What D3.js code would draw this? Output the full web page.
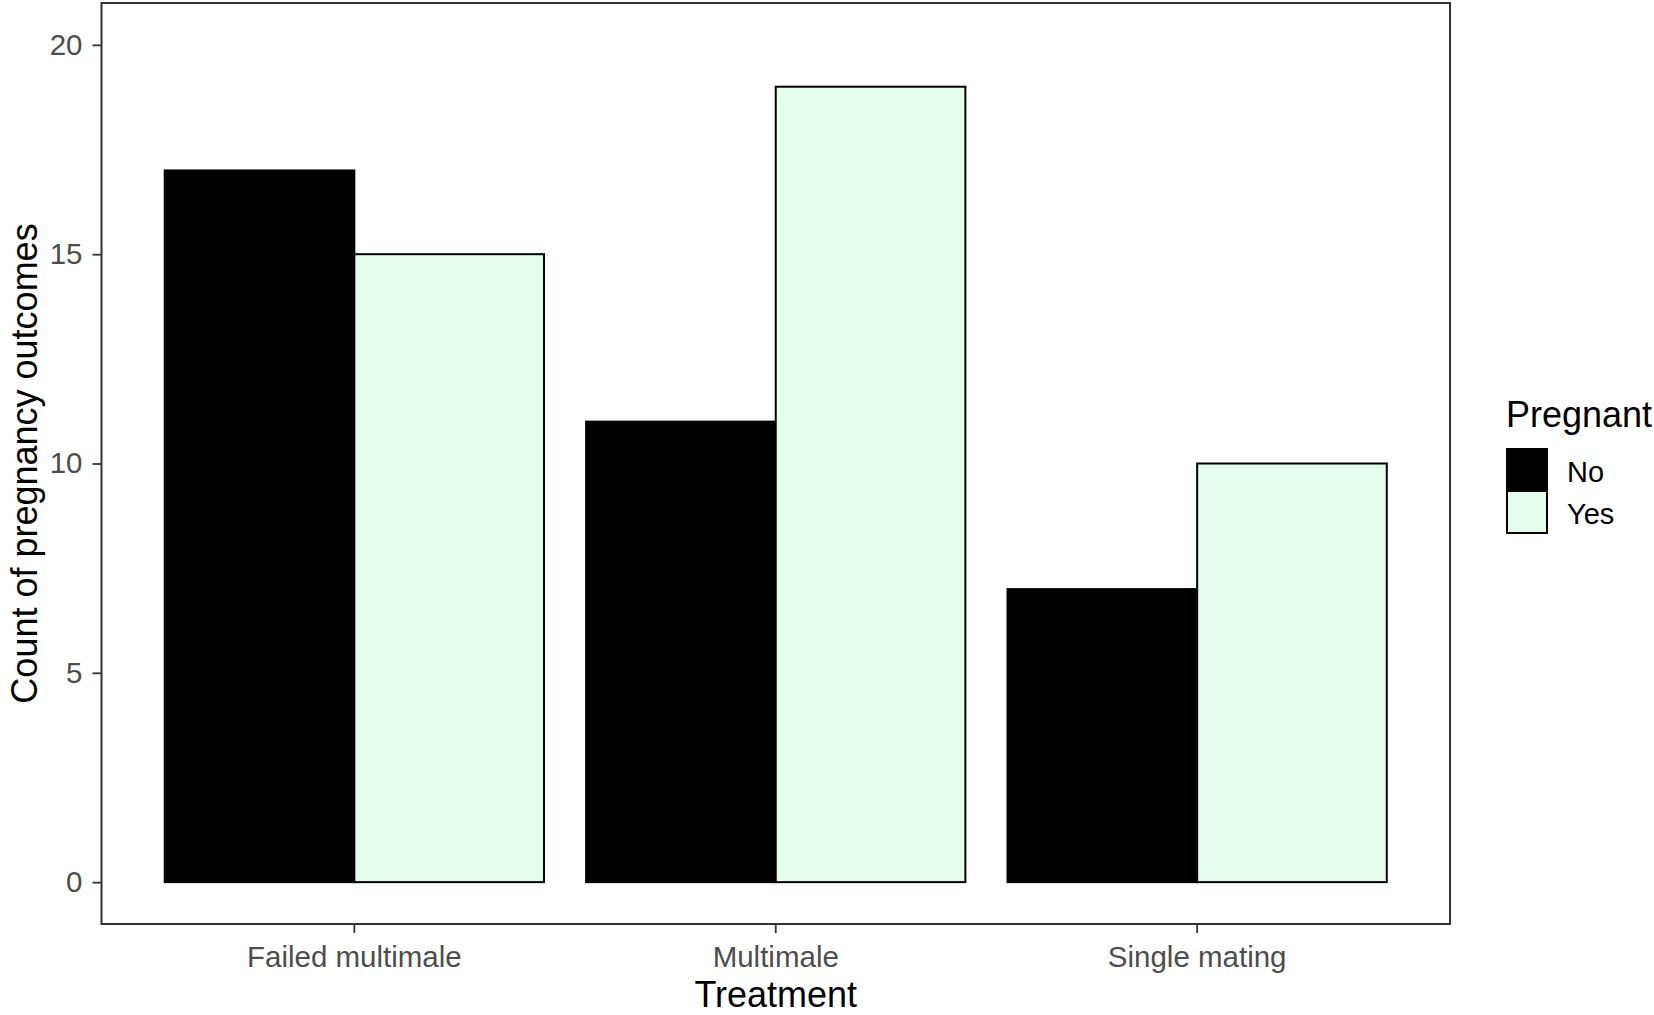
<!DOCTYPE html>
<html>
<head>
<meta charset="utf-8">
<script src="https://cdn.jsdelivr.net/npm/d3@7"></script>
<style>
  body { margin: 0; background: #ffffff; }
  text { font-family: "Liberation Sans", Arial, sans-serif; }
  .tick text { fill: #4d4d4d; font-size: 29.5px; }
  .tick line { stroke: #333333; stroke-width: 1.8px; }
  .domain { display: none; }
  .axislabel { fill: #000000; font-size: 36px; }
  .legend { fill: #000000; font-size: 29px; }
</style>
</head>
<body>
<div id="plot1"></div>
<script>

// data
var treatments = ["Failed multimale", "Multimale", "Single mating"];
var pregnant = ["No", "Yes"];
var countNo = [17, 11, 7];
var countYes = [15, 19, 10];
var yTicks = [0, 5, 10, 15, 20];
var fills = ["#000000", "#e4fcec"];

var data = [];
treatments.forEach(function(t, i) {
    data.push({ Treatment: t, Pregnant: "No", n: countNo[i] });
    data.push({ Treatment: t, Pregnant: "Yes", n: countYes[i] });
});

// panel position inside the svg
var W = 1654, H = 1015;
var panel = { left: 101.5, top: 3, right: 1450, bottom: 924 };

////////////////////////////////////////////////////////////////////////////////////////////////////
// Add SVG element
////////////////////////////////////////////////////////////////////////////////////////////////////

var svg = d3.select("#plot1")
    .append("svg")
    .attr("width", W)
    .attr("height", H);

////////////////////////////////////////////////////////////////////////////////////////////////////
// Scales
////////////////////////////////////////////////////////////////////////////////////////////////////

var xscale = d3.scaleBand()
    .domain(treatments)
    .range([panel.left, panel.right])
    .paddingInner(0.1)
    .paddingOuter(0.15);

var xsub = d3.scaleBand()
    .domain(pregnant)
    .range([0, xscale.bandwidth()]);

var yscale = d3.scaleLinear()
    .domain([-1, 21])
    .range([panel.bottom, panel.top]);

var color = d3.scaleOrdinal()
    .domain(pregnant)
    .range(fills);

////////////////////////////////////////////////////////////////////////////////////////////////////
// Draw the bars
////////////////////////////////////////////////////////////////////////////////////////////////////

svg.append("g")
    .selectAll("rect")
    .data(data)
    .join("rect")
    .attr("x", function(d) { return xscale(d.Treatment) + xsub(d.Pregnant); })
    .attr("y", function(d) { return yscale(d.n); })
    .attr("width", xsub.bandwidth())
    .attr("height", function(d) { return yscale(0) - yscale(d.n); })
    .attr("fill", function(d) { return color(d.Pregnant); })
    .attr("stroke", "#000000")
    .attr("stroke-width", 2);

// panel border
svg.append("rect")
    .attr("x", panel.left)
    .attr("y", panel.top)
    .attr("width", panel.right - panel.left)
    .attr("height", panel.bottom - panel.top)
    .attr("fill", "none")
    .attr("stroke", "#333333")
    .attr("stroke-width", 2);

////////////////////////////////////////////////////////////////////////////////////////////////////
// Axes
////////////////////////////////////////////////////////////////////////////////////////////////////

var xAxis = d3.axisBottom(xscale).tickSize(9).tickPadding(13);
svg.append("g")
    .attr("transform", `translate(0, ${panel.bottom})`)
    .call(xAxis);

var yAxis = d3.axisLeft(yscale).tickValues(yTicks).tickSize(9).tickPadding(10);
svg.append("g")
    .attr("transform", `translate(${panel.left}, 0)`)
    .call(yAxis);

svg.selectAll(".tick text").attr("font-family", null).attr("font-size", null);

// X axis label
svg.append("text")
    .attr("class", "axislabel")
    .attr("text-anchor", "middle")
    .attr("x", (panel.left + panel.right) / 2)
    .attr("y", 1007)
    .text("Treatment");

// Y axis label
svg.append("text")
    .attr("class", "axislabel")
    .attr("text-anchor", "middle")
    .attr("transform", `translate(36.5, ${(panel.top + panel.bottom) / 2}) rotate(-90)`)
    .text("Count of pregnancy outcomes");

////////////////////////////////////////////////////////////////////////////////////////////////////
// Legend
////////////////////////////////////////////////////////////////////////////////////////////////////

var legend = svg.append("g")
    .attr("transform", "translate(1506, 0)");

legend.append("text")
    .attr("class", "axislabel")
    .attr("x", 0)
    .attr("y", 427)
    .text("Pregnant");

var keys = legend.selectAll("g.key")
    .data(pregnant)
    .join("g")
    .attr("class", "key")
    .attr("transform", function(d, i) { return `translate(0, ${449 + i * 42})`; });

keys.append("rect")
    .attr("x", 1)
    .attr("y", 0)
    .attr("width", 40)
    .attr("height", 42)
    .attr("fill", function(d) { return color(d); })
    .attr("stroke", "#000000")
    .attr("stroke-width", 2);

keys.append("text")
    .attr("class", "legend")
    .attr("x", 61)
    .attr("y", 33)
    .text(function(d) { return d; });

</script>
</body>
</html>
